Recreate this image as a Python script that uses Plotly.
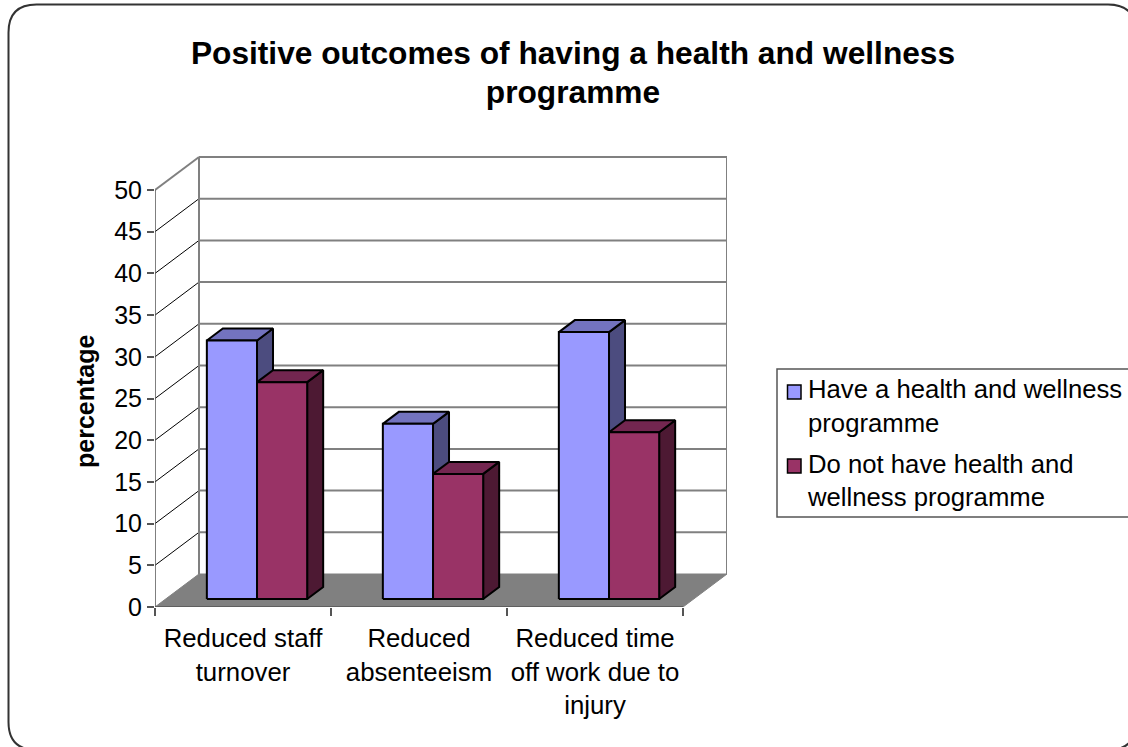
import plotly.graph_objects as go

# ---------- data ----------
categories = ["Reduced staff<br>turnover", "Reduced<br>absenteeism", "Reduced time<br>off work due to<br>injury"]
series_names = ["Have a health and wellness<br>programme", "Do not have health and<br>wellness programme"]
have_programme = [31, 21, 32]
no_programme = [26, 15, 20]
y_ticks = [0, 5, 10, 15, 20, 25, 30, 35, 40, 45, 50]
x_edges = [0, 1, 2, 3]

# ---------- style ----------
FONT = "Liberation Sans, Arial, sans-serif"
front_cols = ["#9999FF", "#993366"]
top_cols = ["#7373BF", "#732650"]
side_cols = ["#4C4C7F", "#4D1933"]
WALL = "#808080"
AXIS = "#555555"

# pixel layout of the plot area
L, R, T, B = 155, 727, 156, 607
W, H = 1128, 747
X_PX = 176.0   # px per category
Y_PX = 8.34    # px per y unit
DX, DY = 44 / X_PX, 33 / Y_PX   # full depth, in axis units


def proj(x, y, d=0.0):
    """Oblique projection: d is the depth fraction 0 (front) .. 1 (back)."""
    return x + DX * d, y + DY * d


fig = go.Figure()


def poly(points, fill=None, line=None, width=0):
    xs = [p[0] for p in points]
    ys = [p[1] for p in points]
    if fill:
        fig.add_trace(go.Scatter(x=xs + xs[:1], y=ys + ys[:1], mode="lines", fill="toself",
                                 fillcolor=fill, line=dict(color=line or fill, width=width),
                                 showlegend=False, hoverinfo="skip", cliponaxis=False))
    else:
        fig.add_trace(go.Scatter(x=xs, y=ys, mode="lines", line=dict(color=line, width=width),
                                 showlegend=False, hoverinfo="skip", cliponaxis=False))


x_end, y_top = x_edges[-1], y_ticks[-1]

# left wall obliques
for t in y_ticks[1:-1]:
    poly([proj(0, t, 0), proj(0, t, 1)], line="#000000", width=1)
# back wall gridlines
for t in y_ticks[1:]:
    poly([proj(0, t, 1), proj(x_end, t, 1)], line=WALL, width=2)
poly([proj(0, y_top, 0), proj(0, y_top, 1)], line=WALL, width=2)
# back wall verticals
poly([proj(0, 0, 1), proj(0, y_top, 1)], line=WALL, width=2)
poly([proj(x_end, 0, 1), proj(x_end, y_top, 1)], line=WALL, width=2)
# floor
poly([proj(0, 0, 0), proj(x_end, 0, 0), proj(x_end, 0, 1), proj(0, 0, 1)], fill=WALL, line=WALL, width=1)

# axis lines
poly([(0, 0), (0, y_top)], line=AXIS, width=1.5)
poly([(0, 0), (x_end, 0)], line=AXIS, width=1.5)

# 3-D bars
OFFSET, BAR_W = 0.234, 0.285
D0, D1 = 8 / 33, 20 / 33
for i in range(len(categories)):
    for s, vals in enumerate([have_programme, no_programme]):
        v = vals[i]
        x0 = i + OFFSET + s * BAR_W
        x1 = x0 + BAR_W
        poly([proj(x1, 0, D0), proj(x1, 0, D1), proj(x1, v, D1), proj(x1, v, D0)],
             fill=side_cols[s], line="#000000", width=2)
        poly([proj(x0, v, D0), proj(x1, v, D0), proj(x1, v, D1), proj(x0, v, D1)],
             fill=top_cols[s], line="#000000", width=2)
        poly([proj(x0, 0, D0), proj(x1, 0, D0), proj(x1, v, D0), proj(x0, v, D0)],
             fill=front_cols[s], line="#000000", width=2)

# legend entries (text from the native legend, swatches placed beside the first line)
for s, name in enumerate(series_names):
    fig.add_trace(go.Scatter(x=[None], y=[None], mode="markers", name=name, legendgroup=f"g{s}",
                             marker=dict(symbol="square", size=14, color="rgba(0,0,0,0)",
                                         line=dict(color="rgba(0,0,0,0)", width=0))))


def px_x(p):
    return (p - L) / (R - L)


def px_y(p):
    return (B - p) / (B - T)


# rounded chart border
bx0, bx1, by0, by1, r = 8.5, 1136, 4.5, 750, 28
border = (
    f"M {px_x(bx0 + r)} {px_y(by0)} L {px_x(bx1 - r)} {px_y(by0)} "
    f"Q {px_x(bx1)} {px_y(by0)} {px_x(bx1)} {px_y(by0 + r)} "
    f"L {px_x(bx1)} {px_y(by1 - r)} Q {px_x(bx1)} {px_y(by1)} {px_x(bx1 - r)} {px_y(by1)} "
    f"L {px_x(bx0 + r)} {px_y(by1)} Q {px_x(bx0)} {px_y(by1)} {px_x(bx0)} {px_y(by1 - r)} "
    f"L {px_x(bx0)} {px_y(by0 + r)} Q {px_x(bx0)} {px_y(by0)} {px_x(bx0 + r)} {px_y(by0)} Z"
)

shapes = [
    dict(type="path", xref="paper", yref="paper", path=border,
         line=dict(color="#333333", width=2), fillcolor="rgba(0,0,0,0)", layer="above"),
    dict(type="rect", xref="paper", yref="paper", x0=px_x(777), x1=px_x(1140), y0=px_y(369), y1=px_y(517),
         line=dict(color="#555555", width=1.5), fillcolor="#FFFFFF", layer="below"),
]
for s, cy in enumerate([392, 466]):
    shapes.append(dict(type="rect", xref="paper", yref="paper",
                       x0=px_x(787.5), x1=px_x(801), y0=px_y(cy - 7), y1=px_y(cy + 7),
                       line=dict(color="#000000", width=1.5), fillcolor=front_cols[s], layer="above"))

fig.update_layout(
    width=W, height=H, autosize=False,
    paper_bgcolor="#FFFFFF", plot_bgcolor="rgba(0,0,0,0)",
    margin=dict(l=L, r=W - R, t=T, b=H - B, pad=0, autoexpand=False),
    font=dict(family=FONT, size=25, color="#000000"),
    title=dict(text='<b><span style="font-size:31.7px">Positive outcomes of having a health and wellness</span><br>'
                    '<span style="font-size:31.7px">programme</span></b>',
               x=573 / W, xref="container", xanchor="center",
               y=1 - 64 / H, yref="container", yanchor="top",
               font=dict(family=FONT, size=30, color="#000000")),
    xaxis=dict(range=[0, (R - L) / X_PX], showgrid=False, zeroline=False, showline=False,
               tickmode="array", tickvals=[i + 0.5 for i in range(len(categories))],
               ticktext=categories, ticks="outside", ticklen=8, tickcolor="rgba(0,0,0,0)", tickangle=0,
               tickfont=dict(family=FONT, size=25.8),
               minor=dict(tickmode="array", tickvals=x_edges, ticks="outside", ticklen=8,
                          tickwidth=1.5, tickcolor=AXIS, showgrid=False)),
    yaxis=dict(range=[0, (B - T) / Y_PX], showgrid=False, zeroline=False, showline=False,
               tickmode="array", tickvals=y_ticks, ticks="outside", ticklen=7,
               tickwidth=1.5, tickcolor=AXIS, tickfont=dict(family=FONT, size=25)),
    legend=dict(x=px_x(768), xanchor="left", y=px_y(365), yanchor="top",
                borderwidth=0, bgcolor="rgba(0,0,0,0)",
                font=dict(family=FONT, size=25.7), itemsizing="constant", tracegroupgap=5),
    shapes=shapes,
    annotations=[dict(text="<b>percentage</b>", textangle=-90, showarrow=False,
                      xref="paper", yref="paper", x=px_x(85), y=px_y(402),
                      xanchor="center", yanchor="middle",
                      font=dict(family=FONT, size=25, color="#000000"))],
)

fig.write_html("out.html", config={"displayModeBar": False},
               post_script="document.body.style.margin='0';")
